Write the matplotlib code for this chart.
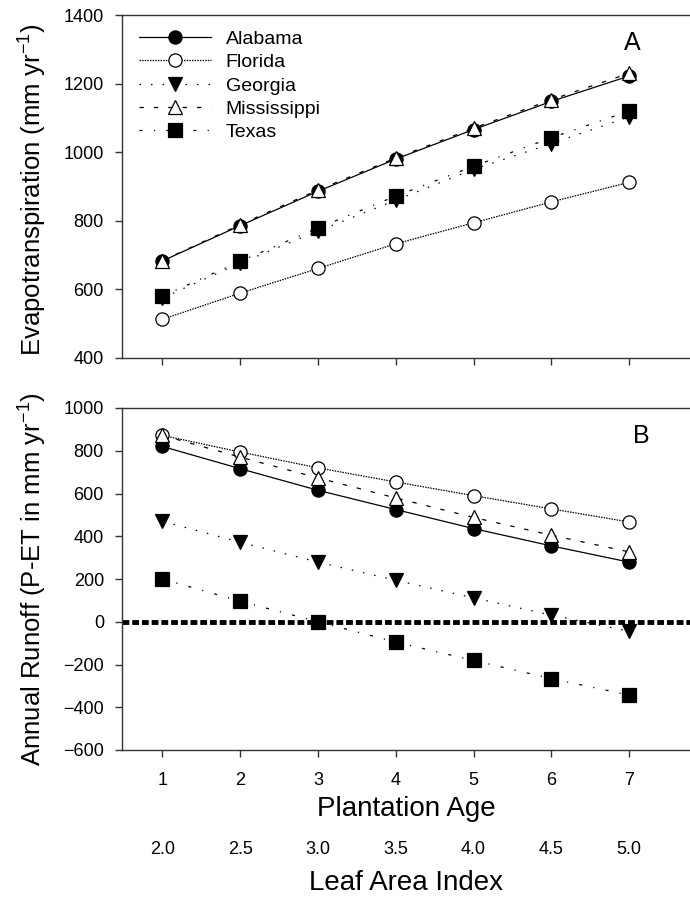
import numpy as np
import matplotlib.pyplot as plt

plt.rcParams['font.family'] = ['Liberation Sans', 'DejaVu Sans']
plt.rcParams['mathtext.fontset'] = 'custom'
plt.rcParams['mathtext.rm'] = 'Liberation Sans'
plt.rcParams['mathtext.it'] = 'Liberation Sans:italic'

# plantation age and matching leaf area index
age = [1, 2, 3, 4, 5, 6, 7]
lai_labels = ['2.0', '2.5', '3.0', '3.5', '4.0', '4.5', '5.0']

states = ['Alabama', 'Florida', 'Georgia', 'Mississippi', 'Texas']

# evapotranspiration (mm/yr)
et_alabama = [683, 786, 886, 980, 1066, 1148, 1222]
et_florida = [513, 589, 661, 733, 794, 855, 912]
et_georgia = [575, 677, 770, 860, 950, 1025, 1103]
et_mississippi = [684, 789, 890, 983, 1070, 1153, 1230]
et_texas = [580, 682, 779, 872, 959, 1042, 1120]

# annual runoff P-ET (mm/yr)
ro_alabama = [820, 716, 615, 525, 436, 355, 279]
ro_florida = [872, 794, 720, 654, 590, 528, 467]
ro_georgia = [470, 372, 279, 194, 112, 31, -44]
ro_mississippi = [872, 770, 673, 579, 488, 405, 327]
ro_texas = [200, 96, 0, -95, -181, -266, -343]

et_all = [et_alabama, et_florida, et_georgia, et_mississippi, et_texas]
ro_all = [ro_alabama, ro_florida, ro_georgia, ro_mississippi, ro_texas]

styles = {
    'Alabama': dict(marker='o', mfc='black', ls='-'),
    'Florida': dict(marker='o', mfc='white', ls=(0, (1.2, 0.9))),
    'Georgia': dict(marker='v', mfc='black', ls=(0, (1.2, 8))),
    'Mississippi': dict(marker='^', mfc='white', ls=(0, (3.5, 8))),
    'Texas': dict(marker='s', mfc='black', ls=(0, (2.5, 9, 1, 9))),
}

fig = plt.figure(figsize=(6.9, 8.98), dpi=100)
ax_a = fig.add_axes([122 / 690, 1 - 358 / 898, 568 / 690, 343 / 898])
ax_b = fig.add_axes([122 / 690, 1 - 750 / 898, 568 / 690, 342 / 898])

for name, et, ro in zip(states, et_all, ro_all):
    st = styles[name]
    kw = dict(color='black', lw=0.9, marker=st['marker'], ms=9.5,
              mfc=st['mfc'], mec='black', mew=0.9, ls=st['ls'])
    ax_a.plot(age, et, label=name, **kw)
    ax_b.plot(age, ro, **kw)

ax_b.axhline(0, color='black', lw=3.5, ls=(0, (1.4, 0.6)),
             dash_capstyle='butt', zorder=1)

for ax in (ax_a, ax_b):
    ax.set_xlim(0.48, 7.784)
    ax.set_xticks(age)
    ax.spines['right'].set_visible(False)
    for s in ('left', 'bottom', 'top'):
        ax.spines[s].set_color('#333333')
        ax.spines[s].set_linewidth(1.0)
    ax.tick_params(direction='out', length=5, width=1, color='#333333',
                   labelsize=13, pad=8)

ax_a.set_ylim(400, 1400)
ax_a.set_yticks(np.arange(400, 1401, 200))
ax_a.tick_params(axis='x', labelbottom=False)
ax_a.set_ylabel('Evapotranspiration (mm yr$^{-1}$)', fontsize=18.5)
ax_a.yaxis.set_label_coords(-0.128, 0.49)
ax_a.text((632 - 122) / 568, (358 - 43) / 343, 'A', fontsize=18,
          ha='center', va='center', transform=ax_a.transAxes)

ax_a.legend(loc='upper left', bbox_to_anchor=(0.03, 0.955), frameon=False,
            fontsize=14, handlelength=3.7, handletextpad=0.75,
            labelspacing=0.29, numpoints=1, borderpad=0, borderaxespad=0)

ax_b.set_ylim(-600, 1000)
ax_b.set_yticks(np.arange(-600, 1001, 200))
ax_b.set_ylabel('Annual Runoff (P-ET in mm yr$^{-1}$)', fontsize=18.5)
ax_b.yaxis.set_label_coords(-0.128, 0.5)
ax_b.tick_params(axis='x', pad=11)
ax_b.set_xlabel('Plantation Age', fontsize=20, labelpad=5)
ax_b.text((641 - 122) / 568, (750 - 436) / 342, 'B', fontsize=18,
          ha='center', va='center', transform=ax_b.transAxes)

# second row of labels: leaf area index at each plantation age
xt = ax_b.get_xaxis_transform()
for a, lab in zip(age, lai_labels):
    ax_b.text(a, -0.29, lab, fontsize=13, ha='center', va='center',
              transform=xt)
ax_b.text(0.5, -0.39, 'Leaf Area Index', fontsize=20, ha='center',
          va='center', transform=ax_b.transAxes)

fig.savefig('out.png', dpi=100)
